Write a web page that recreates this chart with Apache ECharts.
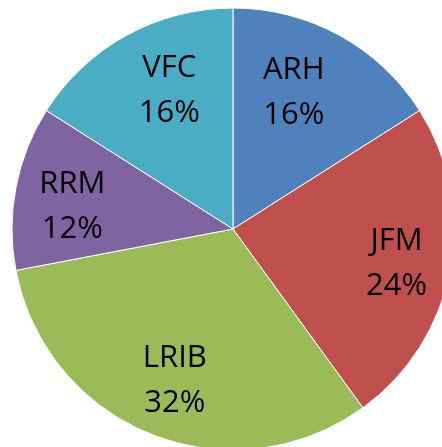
<!DOCTYPE html>
<html>
<head>
<meta charset="utf-8">
<script src="https://cdn.jsdelivr.net/npm/echarts@6/dist/echarts.min.js"></script>
<style>
  html, body { margin: 0; padding: 0; background: #fff; }
  #chart { width: 442px; height: 447px; }
</style>
</head>
<body>
<div id="chart"></div>
<script>
// share of each group (percent)
var names = ['ARH', 'JFM', 'LRIB', 'RRM', 'VFC'];
var shares = [16, 24, 32, 12, 16];
var colors = ['#4f81bd', '#c0504d', '#9bbb59', '#8064a2', '#4bacc6'];
// small nudges so labels sit where excel put them
var labelNudge = [[-18, 7], [3, 4], [2, 0], [0, 8], [15, 5]];

var pieData = names.map(function (n, i) {
  return { name: n, value: shares[i], itemStyle: { color: colors[i] } };
});

var chart = echarts.init(document.getElementById('chart'));
chart.setOption({
  animation: false,
  series: [
    {
      // the pie itself
      type: 'pie',
      center: [233, 229],
      radius: [0, 221],
      startAngle: 90,
      clockwise: true,
      silent: true,
      label: { show: false },
      labelLine: { show: false },
      itemStyle: { borderColor: '#ffffff', borderWidth: 1 },
      data: pieData
    },
    {
      // transparent ring only used to put labels farther out
      type: 'pie',
      center: [233, 229],
      radius: [100, 221],
      startAngle: 90,
      clockwise: true,
      silent: true,
      itemStyle: { color: 'transparent', borderWidth: 0 },
      label: {
        show: true,
        position: 'inside',
        formatter: '{b}\n{c}%',
        color: '#000',
        fontFamily: 'Open Sans',
        fontSize: 31,
        lineHeight: 45
      },
      labelLine: { show: false },
      data: names.map(function (n, i) {
        return { name: n, value: shares[i], label: { offset: labelNudge[i] } };
      })
    }
  ]
});
</script>
</body>
</html>
